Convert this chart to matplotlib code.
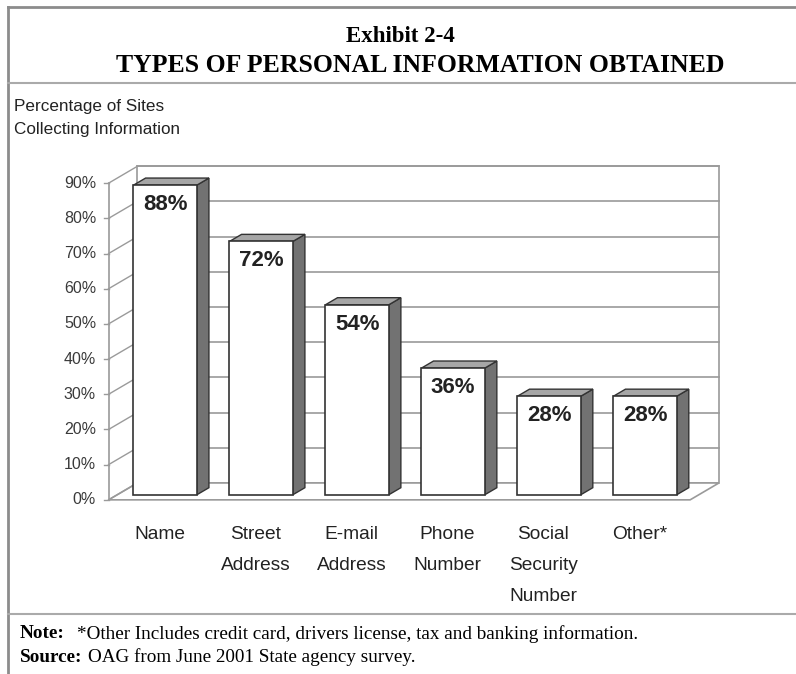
import matplotlib
matplotlib.use("Agg")
import matplotlib.pyplot as plt
from matplotlib.patches import Polygon, Rectangle
from matplotlib.lines import Line2D

# data
categories = ["Name", "Street\nAddress", "E-mail\nAddress", "Phone\nNumber",
              "Social\nSecurity\nNumber", "Other*"]
values = [88, 72, 54, 36, 28, 28]
yticks = [0, 10, 20, 30, 40, 50, 60, 70, 80, 90]
ytick_labels = ["%d%%" % t for t in yticks]

W, H = 796, 674
fig = plt.figure(figsize=(W / 100, H / 100), dpi=100)

def fx(px):
    return px / W

def fy(py):
    return 1 - py / H

# page frame
frame_col = "#8c8c8c"
fig.add_artist(Line2D([fx(8), fx(8)], [fy(7), fy(674)], color=frame_col, lw=2))
fig.add_artist(Line2D([fx(8), fx(796)], [fy(7), fy(7)], color=frame_col, lw=2))
fig.add_artist(Line2D([fx(8), fx(796)], [fy(83), fy(83)], color="#aaaaaa", lw=1.5))
fig.add_artist(Line2D([fx(8), fx(796)], [fy(614), fy(614)], color="#aaaaaa", lw=1.5))

serif = "Liberation Serif"
sans = "Liberation Sans"

fig.text(fx(400), fy(37), "Exhibit 2-4", ha="center", va="center",
         fontsize=16.5, fontweight="bold", family=serif)
fig.text(fx(420), fy(65), "TYPES OF PERSONAL INFORMATION OBTAINED", ha="center",
         va="center", fontsize=18.5, fontweight="bold", family=serif)
fig.text(fx(14), fy(118), "Percentage of Sites\nCollecting Information", ha="left",
         va="center", fontsize=12.3, family=sans, linespacing=1.6, color="#222222")

fig.text(fx(20), fy(634), "Note:", ha="left", va="center", fontsize=13.8,
         fontweight="bold", family=serif)
fig.text(fx(77), fy(634), "*Other Includes credit card, drivers license, tax and banking information.",
         ha="left", va="center", fontsize=13.8, family=serif)
fig.text(fx(20), fy(657), "Source:", ha="left", va="center", fontsize=13.8,
         fontweight="bold", family=serif)
fig.text(fx(88), fy(657), "OAG from June 2001 State agency survey.",
         ha="left", va="center", fontsize=13.8, family=serif)

# axes: 1 category unit = 96 px, 1 percent = 3.52 px
ax = fig.add_axes([fx(50), fy(528), 691 / W, 380 / H])
ax.set_xlim(-1.2, 6.0)
ax.set_ylim(-8, 100)
ax.axis("off")

ddx, ddy = 0.30, 4.8          # wall depth
x0, x1 = -0.59, 5.47          # floor front edge
ymax = 90
line_col = "#9a9a9a"

# back wall
ax.add_patch(Rectangle((x0 + ddx, ddy), x1 - x0, ymax, facecolor="white",
                       edgecolor=line_col, lw=1.2, zorder=1))
for t in yticks[1:]:
    ax.plot([x0 + ddx, x1 + ddx], [t + ddy, t + ddy], color=line_col, lw=1.2, zorder=2)

# floor
ax.add_patch(Polygon([(x0, 0), (x1, 0), (x1 + ddx, ddy), (x0 + ddx, ddy)],
                     closed=True, facecolor="white", edgecolor=line_col, lw=1.2, zorder=2))
# left wall
ax.plot([x0, x0], [0, ymax], color=line_col, lw=1.2, zorder=3)
for t in yticks:
    ax.plot([x0, x0 + ddx], [t, t + ddy], color=line_col, lw=1.0, zorder=3)
    ax.plot([x0 - 0.05, x0], [t, t], color=line_col, lw=1.0, zorder=3)
for t, lab in zip(yticks, ytick_labels):
    ax.annotate(lab, (x0, t), xytext=(-9, 0), textcoords="offset points",
                ha="right", va="center", fontsize=11.5, family=sans, color="#3a3a3a")

# bars
bw = 0.66
f0, f1 = 0.30, 0.72   # depth range of bars as fraction of wall depth
for i, (cat, v) in enumerate(zip(categories, values)):
    bx = i - bw / 2
    by = f0 * ddy
    sx = (f1 - f0) * ddx
    sy = (f1 - f0) * ddy
    top = by + v
    ax.add_patch(Polygon([(bx + bw, by), (bx + bw + sx, by + sy), (bx + bw + sx, top + sy),
                          (bx + bw, top)], closed=True, facecolor="#727272",
                         edgecolor="#333333", lw=1.0, zorder=5))
    ax.add_patch(Polygon([(bx, top), (bx + sx, top + sy), (bx + bw + sx, top + sy),
                          (bx + bw, top)], closed=True, facecolor="#a6a6a6",
                         edgecolor="#333333", lw=1.0, zorder=5))
    ax.add_patch(Rectangle((bx, by), bw, v, facecolor="white", edgecolor="#333333",
                           lw=1.2, zorder=6))
    ax.annotate("%d%%" % v, (bx + bw / 2, top), xytext=(0, -14), textcoords="offset points",
                ha="center", va="center", fontsize=16, fontweight="bold", family=sans,
                color="#222222", zorder=7)
    ax.annotate(cat, (i - 0.06, 0), xytext=(0, -19), textcoords="offset points",
                ha="center", va="top", fontsize=13.8, family=sans, linespacing=2.08,
                color="#222222")

fig.savefig("out.png", dpi=100, facecolor="white")
